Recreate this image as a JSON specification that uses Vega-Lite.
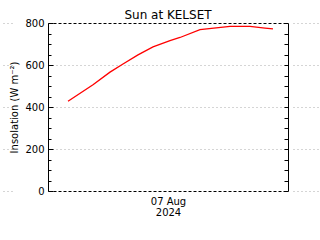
{
  "$schema": "https://vega.github.io/schema/vega-lite/v6.json",
  "autosize": {"type": "none"},
  "width": 240,
  "height": 168,
  "padding": {"left": 48, "top": 23, "right": 32, "bottom": 49},
  "background": "white",
  "config": {
    "view": {"stroke": null},
    "font": "DejaVu Sans",
    "axis": {"labelFont": "DejaVu Sans", "titleFont": "DejaVu Sans", "labelColor": "black", "titleColor": "black", "labelFontSize": 10, "titleFontSize": 10, "titleFontWeight": "normal", "domainColor": "black", "tickColor": "black"}
  },
  "title": {"text": "Sun at KELSET", "fontSize": 12, "fontWeight": "normal", "font": "DejaVu Sans", "color": "black", "anchor": "middle", "offset": -4},
  "data": {
    "values": [
      {"hour": 2.0, "insolation": 427},
      {"hour": 4.5, "insolation": 506},
      {"hour": 6.2, "insolation": 566},
      {"hour": 7.5, "insolation": 605},
      {"hour": 9.0, "insolation": 648},
      {"hour": 10.5, "insolation": 686},
      {"hour": 12.2, "insolation": 716},
      {"hour": 13.2, "insolation": 731},
      {"hour": 15.2, "insolation": 768},
      {"hour": 18.2, "insolation": 784},
      {"hour": 20.2, "insolation": 784},
      {"hour": 21.7, "insolation": 776},
      {"hour": 22.5, "insolation": 772}
    ]
  },
  "resolve": {"axis": {"x": "independent", "y": "independent"}},
  "layer": [
    {
      "mark": {"type": "line", "color": "#ff0000", "strokeWidth": 1.3},
      "encoding": {
        "x": {"field": "hour", "type": "quantitative", "scale": {"domain": [0, 24], "nice": false},
          "axis": {"orient": "bottom", "labels": false, "ticks": false, "grid": false, "domainDash": [3, 2], "domainWidth": 1, "title": ["07 Aug", "2024"], "titlePadding": 5, "titleLineHeight": 11}},
        "y": {"field": "insolation", "type": "quantitative", "scale": {"domain": [0, 800], "nice": false},
          "axis": {"orient": "left", "values": [0, 200, 400, 600, 800], "tickSize": -5, "labelPadding": 9, "grid": true, "gridColor": "#aaaaaa", "gridDash": [1, 3],
            "gridOpacity": {"condition": {"test": "datum.value == 0 || datum.value == 800", "value": 0}, "value": 1},
            "title": "Insolation (W m⁻²)", "titlePadding": 5}}
      }
    },
    {
      "mark": {"type": "line", "strokeOpacity": 0},
      "encoding": {
        "x": {"field": "hour", "type": "quantitative", "scale": {"domain": [0, 24], "nice": false},
          "axis": {"orient": "top", "labels": false, "ticks": false, "grid": false, "domainDash": [3, 2], "title": null}},
        "y": {"field": "insolation", "type": "quantitative", "scale": {"domain": [0, 800], "nice": false},
          "axis": {"orient": "left", "values": [50, 100, 150, 250, 300, 350, 450, 500, 550, 650, 700, 750], "tickSize": -3, "labels": false, "domain": false, "grid": false, "title": null}}
      }
    },
    {
      "mark": {"type": "line", "strokeOpacity": 0},
      "encoding": {
        "x": {"field": "hour", "type": "quantitative", "axis": null},
        "y": {"field": "insolation", "type": "quantitative", "scale": {"domain": [0, 800], "nice": false},
          "axis": {"orient": "right", "values": [0, 50, 100, 150, 200, 250, 300, 350, 400, 450, 500, 550, 600, 650, 700, 750, 800], "tickSize": -4, "labels": false, "domain": true, "grid": false, "title": null}}
      }
    },
    {
      "mark": {"type": "line", "strokeOpacity": 0},
      "encoding": {
        "x": {"field": "hour", "type": "quantitative", "axis": null},
        "y": {"field": "insolation", "type": "quantitative", "scale": {"domain": [0, 800], "nice": false},
          "axis": {"orient": "right", "values": [0, 200, 400, 600, 800], "offset": 5, "tickSize": 28, "tickColor": "#aaaaaa", "tickDash": [1, 3], "labels": false, "domain": false, "grid": false, "title": null}}
      }
    },
    {
      "mark": {"type": "line", "strokeOpacity": 0},
      "encoding": {
        "x": {"field": "hour", "type": "quantitative", "axis": null},
        "y": {"field": "insolation", "type": "quantitative", "scale": {"domain": [0, 800], "nice": false},
          "axis": {"orient": "left", "values": [0, 200, 400, 600, 800], "offset": 36, "tickSize": 12, "tickColor": "#aaaaaa", "tickDash": [1, 3], "labels": false, "domain": false, "grid": false, "title": null}}
      }
    }
  ]
}
